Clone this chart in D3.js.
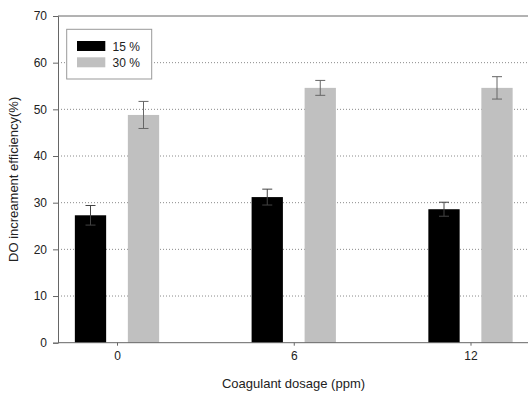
<!DOCTYPE html>
<html>
<head>
<meta charset="utf-8">
<script src="https://cdn.jsdelivr.net/npm/d3@7"></script>
<style>
  body { margin: 0; background: #fff; }
  svg { display: block; font-family: "Liberation Sans", Arial, sans-serif; }
</style>
</head>
<body>
<div id="chart"></div>
<script>
// data
const dosages = ['0', '6', '12'];
const seriesNames = ['15 %', '30 %'];
const values15 = [27.3, 31.2, 28.6];
const values30 = [48.8, 54.6, 54.6];
const err15 = [2.1, 1.7, 1.5];
const err30 = [2.9, 1.6, 2.4];
const yTicks = [0, 10, 20, 30, 40, 50, 60, 70];

const width = 528, height = 393;
const margin = { top: 16, right: 0, bottom: 50, left: 58 };

const svg = d3.select('#chart')
    .append('svg')
    .attr('width', width)
    .attr('height', height);

// x: group centers (chart is cut off on the right)
const x = d3.scalePoint()
    .domain(dosages)
    .range([117, 470.5]);

const y = d3.scaleLinear()
    .domain([0, 70])
    .range([342.7, margin.top]);

const barW = 31.3;
const offset = 26.5;
const colors = ['#000000', '#c0c0c0'];

// grid lines
svg.append('g')
    .selectAll('line')
    .data(yTicks.filter(d => d > 0 && d < 70))
    .enter()
    .append('line')
    .attr('x1', margin.left)
    .attr('x2', width)
    .attr('y1', d => y(d))
    .attr('y2', d => y(d))
    .attr('stroke', '#8a8a8a')
    .attr('stroke-width', 1)
    .attr('stroke-dasharray', '1,2');

// bars
const series = [
    { name: seriesNames[0], vals: values15, errs: err15, dx: -offset, color: colors[0] },
    { name: seriesNames[1], vals: values30, errs: err30, dx: offset, color: colors[1] }
];

series.forEach(s => {
    const g = svg.append('g');
    g.selectAll('rect')
        .data(dosages)
        .enter()
        .append('rect')
        .attr('x', (d) => x(d) + s.dx - barW / 2)
        .attr('y', (d, i) => y(s.vals[i]))
        .attr('width', barW)
        .attr('height', (d, i) => y(0) - y(s.vals[i]))
        .attr('fill', s.color);

    // error bars
    const eb = g.selectAll('g.err')
        .data(dosages)
        .enter()
        .append('g')
        .attr('stroke', s.color === '#000000' ? '#444' : '#666')
        .attr('stroke-width', 1);
    eb.append('line')
        .attr('x1', d => x(d) + s.dx)
        .attr('x2', d => x(d) + s.dx)
        .attr('y1', (d, i) => y(s.vals[i] + s.errs[i]))
        .attr('y2', (d, i) => y(s.vals[i] - s.errs[i]));
    eb.append('line')
        .attr('x1', d => x(d) + s.dx - 5)
        .attr('x2', d => x(d) + s.dx + 5)
        .attr('y1', (d, i) => y(s.vals[i] + s.errs[i]))
        .attr('y2', (d, i) => y(s.vals[i] + s.errs[i]));
    eb.append('line')
        .attr('x1', d => x(d) + s.dx - 5)
        .attr('x2', d => x(d) + s.dx + 5)
        .attr('y1', (d, i) => y(s.vals[i] - s.errs[i]))
        .attr('y2', (d, i) => y(s.vals[i] - s.errs[i]));
});

// frame line on top (runs off the right edge)
svg.append('line')
    .attr('x1', margin.left).attr('x2', width)
    .attr('y1', y(70)).attr('y2', y(70))
    .attr('stroke', '#666').attr('stroke-width', 1);

// axes
const yAxis = svg.append('g')
    .attr('transform', `translate(${margin.left},0)`)
    .call(d3.axisLeft(y).tickValues(yTicks).tickSize(5).tickPadding(6));
yAxis.select('.domain').attr('stroke', '#666');
yAxis.selectAll('.tick line').attr('stroke', '#666');
yAxis.selectAll('text').attr('font-size', 12).attr('fill', '#222')
    .attr('font-family', '"Liberation Sans", Arial, sans-serif');

const xAxis = svg.append('g')
    .attr('transform', `translate(0,${y(0)})`)
    .call(d3.axisBottom(x).tickSize(3).tickPadding(6));
xAxis.select('.domain').attr('d', `M${margin.left},0H${width}`).attr('stroke', '#666');
xAxis.selectAll('.tick line').attr('stroke', '#666');
xAxis.selectAll('text').attr('font-size', 12).attr('fill', '#222')
    .attr('font-family', '"Liberation Sans", Arial, sans-serif');

// axis titles
svg.append('text')
    .attr('transform', `translate(17.5,${(y(0) + y(70)) / 2}) rotate(-90)`)
    .attr('text-anchor', 'middle')
    .attr('font-size', 13)
    .attr('fill', '#222')
    .text('DO increament efficiency(%)');

svg.append('text')
    .attr('x', 293.5)
    .attr('y', 388)
    .attr('text-anchor', 'middle')
    .attr('font-size', 13)
    .attr('fill', '#222')
    .text('Coagulant dosage (ppm)');

// legend
const legend = svg.append('g');
legend.append('rect')
    .attr('x', 66.7).attr('y', 29.3)
    .attr('width', 85).attr('height', 49.7)
    .attr('fill', '#fff')
    .attr('stroke', '#999')
    .attr('stroke-width', 1);
series.forEach((s, i) => {
    legend.append('rect')
        .attr('x', 77).attr('y', 41 + i * 16.3)
        .attr('width', 28.3).attr('height', 10)
        .attr('fill', s.color);
    legend.append('text')
        .attr('x', 112.5).attr('y', 50.5 + i * 16.3)
        .attr('font-size', 12)
        .attr('fill', '#222')
        .text(s.name);
});
</script>
</body>
</html>
